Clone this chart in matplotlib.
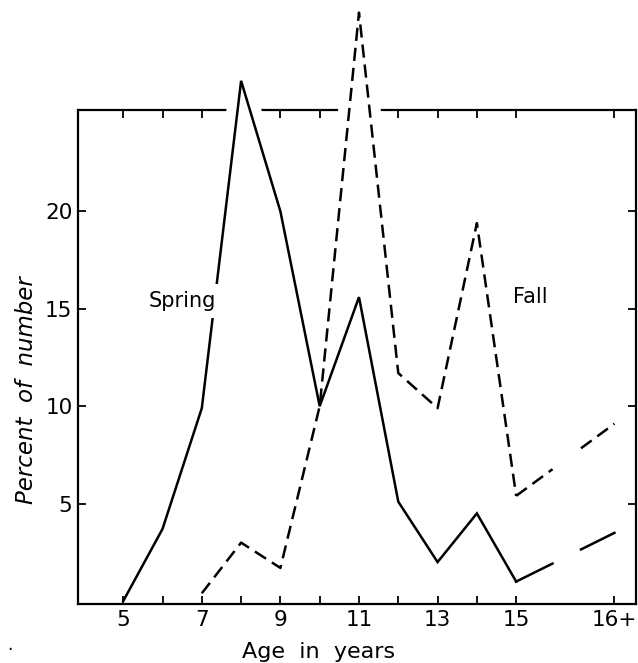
import matplotlib
matplotlib.use("Agg")
import matplotlib.pyplot as plt
from matplotlib.patches import Rectangle

# ages (16+ sits a bit further out on the axis)
ages = [5, 6, 7, 8, 9, 10, 11, 12, 13, 14, 15, 17.5]
age_labels = ["5", "", "7", "", "9", "", "11", "", "13", "", "15", "16+"]

spring_ages = [5, 6, 7, 8, 9, 10, 11, 12, 13, 14, 15, 17.5]
spring_pct = [0.0, 3.7, 9.9, 26.7, 20.0, 10.0, 15.6, 5.1, 2.0, 4.5, 1.0, 3.5]

fall_ages = [7, 8, 9, 10, 11, 12, 13, 14, 15, 17.5]
fall_pct = [0.4, 3.0, 1.7, 10.0, 30.2, 11.7, 9.9, 19.4, 5.4, 9.1]

y_ticks = [5, 10, 15, 20]

plt.rcParams["font.family"] = "DejaVu Sans"
plt.rcParams["lines.scale_dashes"] = False

fig = plt.figure(figsize=(6.38, 6.63), dpi=100)
ax = fig.add_axes([0.1223, 0.089, 0.8746, 0.745])

LW = 1.8
DASH = (9.5, 5.0)
gap = (0.37, 0.66)  # break in the last segment (15 -> 16+)


def draw_series(x, y, style):
    kw = dict(color="black", lw=LW, clip_on=False, zorder=3, solid_joinstyle="miter")
    if style == "dashed":
        kw["dashes"] = DASH
    ax.plot(x[:-1], y[:-1], **kw)
    # broken final segment
    x0, x1 = x[-2], x[-1]
    y0, y1 = y[-2], y[-1]
    xa = x0 + (x1 - x0) * gap[0]
    ya = y0 + (y1 - y0) * gap[0]
    xb = x0 + (x1 - x0) * gap[1]
    yb = y0 + (y1 - y0) * gap[1]
    ax.plot([x0, xa], [y0, ya], **kw)
    ax.plot([xb, x1], [yb, y1], **kw)
    # white halo where the line runs over the top frame
    halo, = ax.plot(x, y, color="white", lw=16, zorder=2.6, solid_capstyle="butt")
    halo.set_clip_path(Rectangle((0, 0.965), 1, 0.05, transform=ax.transAxes))


draw_series(spring_ages, spring_pct, "solid")
draw_series(fall_ages, fall_pct, "dashed")

ax.set_xlim(3.85, 18.05)
ax.set_ylim(-0.15, 25.2)

ax.set_xticks(ages)
ax.set_xticklabels(age_labels)
ax.set_yticks(y_ticks)
ax.tick_params(direction="in", length=6, width=1.3, top=True, right=True,
               labelsize=15.5, pad=4)
for s in ax.spines.values():
    s.set_linewidth(1.6)

ax.text(6.5, 15.4, "Spring", fontsize=15, ha="center", va="center", zorder=5,
        bbox=dict(facecolor="white", edgecolor="none", pad=5))
ax.text(15.35, 15.6, "Fall", fontsize=15, ha="center", va="center")

fig.text(0.5, 0.017, "Age  in  years", fontsize=16, ha="center", va="center")
fig.text(0.042, 0.412, "Percent  of  number", fontsize=16.5, style="italic",
         rotation=90, ha="center", va="center")
fig.text(0.012, 0.02, ".", fontsize=12)

fig.savefig("out.png", dpi=100)
